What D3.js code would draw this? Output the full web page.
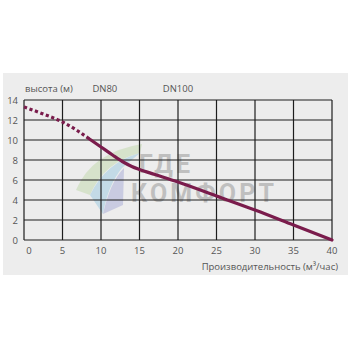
<!DOCTYPE html>
<html>
<head>
<meta charset="utf-8">
<script src="https://cdn.jsdelivr.net/npm/d3@7"></script>
<style>
  body { margin: 0; background: #fff; }
  svg { display: block; font-family: "Open Sans", sans-serif; }
</style>
</head>
<body>
<svg id="chart" width="350" height="350"></svg>
<script>
// --- data ---
const xTicks = [0, 5, 10, 15, 20, 25, 30, 35, 40];
const yTicks = [0, 2, 4, 6, 8, 10, 12, 14];
const dottedFlow = [0, 2.5, 5, 7, 8.5];
const dottedHead = [13.3, 12.6, 11.8, 10.9, 10.1];
const solidFlow = [8.5, 10, 11.5, 13, 14, 15, 17, 20, 25, 30, 35, 40];
const solidHead = [10.1, 9.3, 8.5, 7.75, 7.35, 7.05, 6.55, 5.8, 4.4, 3.0, 1.5, 0];
const seriesLabels = ["DN80", "DN100"];
const seriesLabelFlow = [10.5, 20];

const svg = d3.select("#chart");
const x = d3.scaleLinear().domain([0, 40]).range([24, 332]);
const y = d3.scaleLinear().domain([0, 14]).range([240, 100]);

// grey panel
svg.append("rect")
  .attr("x", 3).attr("y", 73)
  .attr("width", 345).attr("height", 202)
  .attr("fill", "#ededed");

// watermark
const wm = svg.append("g").attr("opacity", 0.4);
wm.append("path")
  .attr("d", "M76,190 Q92,152 142,144 L140,153 Q104,162 90,195 Z")
  .attr("fill", "#b5d39a");
wm.append("path")
  .attr("d", "M90,195 Q106,162 140,153 L122,168 Q108,185 103,214 Z")
  .attr("fill", "#86c0dc");
wm.append("path")
  .attr("d", "M103,214 Q110,182 124,168 L123,205 Z")
  .attr("fill", "#9599d0");
wm.append("text")
  .attr("x", 139).attr("y", 173)
  .attr("font-family", "Roboto, sans-serif").attr("font-weight", 700)
  .attr("font-size", 25).attr("fill", "#7d7d7d")
  .attr("textLength", 51).text("ГДЕ");
wm.append("text")
  .attr("x", 131).attr("y", 202)
  .attr("font-family", "Roboto, sans-serif").attr("font-weight", 700)
  .attr("font-size", 25).attr("fill", "#7d7d7d")
  .attr("textLength", 143).text("КОМФОРТ");

// grid
const grid = svg.append("g").attr("stroke", "#1e1e1e").attr("stroke-width", 1.2);
grid.selectAll(".vl").data(xTicks).enter().append("line")
  .attr("x1", d => x(d)).attr("x2", d => x(d))
  .attr("y1", y(14)).attr("y2", y(0));
grid.selectAll(".hl").data(yTicks).enter().append("line")
  .attr("x1", x(0)).attr("x2", x(40))
  .attr("y1", d => y(d)).attr("y2", d => y(d));

// tick labels
const lab = svg.append("g").attr("fill", "#555").attr("font-size", 9.5);
lab.selectAll(".yt").data(yTicks).enter().append("text")
  .attr("x", 18).attr("y", d => y(d) + 3.5)
  .attr("text-anchor", "end").text(d => d);
lab.selectAll(".xt").data(xTicks).enter().append("text")
  .attr("x", d => x(d) + (d === 0 ? 5 : 0)).attr("y", 254)
  .attr("text-anchor", "middle").text(d => d);

svg.append("text")
  .attr("x", 25).attr("y", 92)
  .attr("font-size", 9.5).attr("fill", "#555").text("высота (м)");
svg.selectAll(".dn").data(seriesLabels).enter().append("text")
  .attr("x", (d, i) => x(seriesLabelFlow[i]))
  .attr("y", 92).attr("text-anchor", "middle")
  .attr("font-size", 9.5).attr("fill", "#555").text(d => d);
svg.append("text")
  .attr("x", 338).attr("y", 270).attr("text-anchor", "end")
  .attr("font-size", 9.5).attr("fill", "#555")
  .text("Производительность (м³/час)");

// curve
const line = d3.line().x(d => x(d[0])).y(d => y(d[1])).curve(d3.curveMonotoneX);
svg.append("path")
  .attr("d", line(dottedFlow.map((f, i) => [f, dottedHead[i]])))
  .attr("fill", "none").attr("stroke", "#7a1c4c")
  .attr("stroke-width", 3.2).attr("stroke-dasharray", "3.2,2.6");
svg.append("path")
  .attr("d", line(solidFlow.map((f, i) => [f, solidHead[i]])))
  .attr("fill", "none").attr("stroke", "#7a1c4c")
  .attr("stroke-width", 3.2).attr("stroke-linecap", "round");
</script>
</body>
</html>
